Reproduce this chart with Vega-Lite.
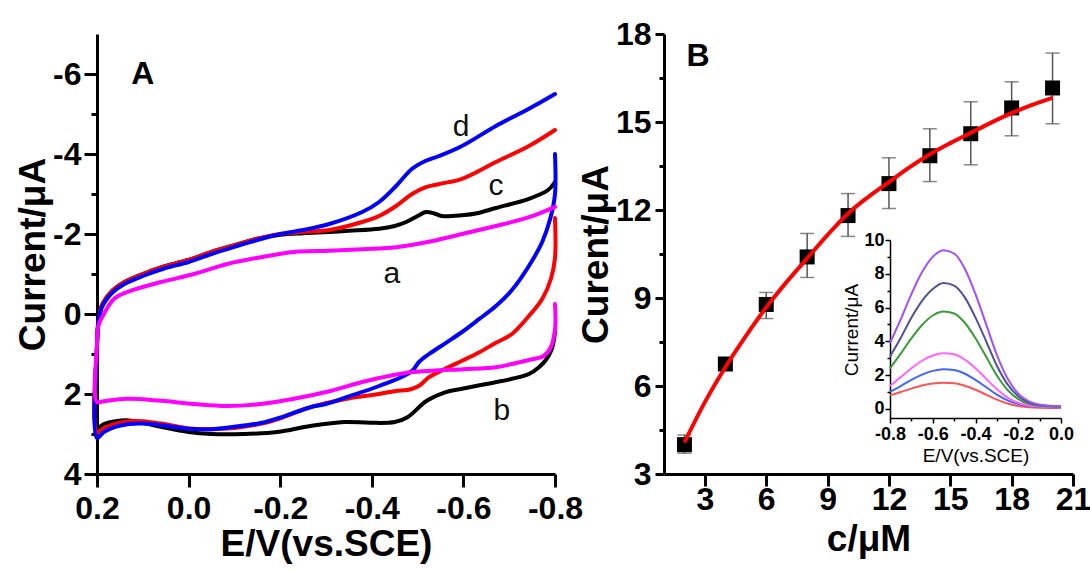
{
  "$schema": "https://vega.github.io/schema/vega-lite/v6.json",
  "background": "white",
  "autosize": {"type": "pad"},
  "padding": {"left": 14, "top": 18, "right": 0, "bottom": 5},
  "bounds": "flush",
  "spacing": 109,
  "config": {
    "view": {"stroke": null},
    "font": "Liberation Sans",
    "axis": {
      "grid": false,
      "domainColor": "black", "domainWidth": 3,
      "tickColor": "black", "tickWidth": 3,
      "labelColor": "black", "titleColor": "black",
      "labelFont": "Liberation Sans", "titleFont": "Liberation Sans",
      "labelFontWeight": "bold", "titleFontWeight": "bold",
      "labelFontSize": 32, "titleFontSize": 37,
      "labelOverlap": false, "labelFlush": false
    }
  },
  "datasets": {
    "cv": [
      {"s":"b","E":-0.8,"I":0.45},{"s":"b","E":-0.793,"I":0.875},{"s":"b","E":-0.78,"I":1.15},{"s":"b","E":-0.765,"I":1.33},{"s":"b","E":-0.743,"I":1.5},{"s":"b","E":-0.706,"I":1.62},{"s":"b","E":-0.65,"I":1.75},{"s":"b","E":-0.597,"I":1.87},{"s":"b","E":-0.56,"I":1.96},{"s":"b","E":-0.52,"I":2.17},{"s":"b","E":-0.478,"I":2.58},{"s":"b","E":-0.45,"I":2.7},{"s":"b","E":-0.397,"I":2.72},{"s":"b","E":-0.34,"I":2.7},{"s":"b","E":-0.266,"I":2.8},{"s":"b","E":-0.194,"I":2.95},{"s":"b","E":-0.12,"I":3.0},{"s":"b","E":-0.05,"I":3.0},{"s":"b","E":0.0,"I":2.95},{"s":"b","E":0.06,"I":2.82},{"s":"b","E":0.1,"I":2.72},{"s":"b","E":0.13,"I":2.66},{"s":"b","E":0.16,"I":2.68},{"s":"b","E":0.185,"I":2.75},{"s":"b","E":0.2,"I":2.85},
      {"s":"b","E":0.2,"I":0.8},{"s":"b","E":0.197,"I":0.2},{"s":"b","E":0.19,"I":-0.2},{"s":"b","E":0.18,"I":-0.4},{"s":"b","E":0.165,"I":-0.6},{"s":"b","E":0.14,"I":-0.8},{"s":"b","E":0.1,"I":-1.0},{"s":"b","E":0.05,"I":-1.2},{"s":"b","E":0.0,"I":-1.35},{"s":"b","E":-0.05,"I":-1.55},{"s":"b","E":-0.1,"I":-1.72},{"s":"b","E":-0.15,"I":-1.88},{"s":"b","E":-0.2,"I":-1.98},{"s":"b","E":-0.25,"I":-2.02},{"s":"b","E":-0.307,"I":-2.05},{"s":"b","E":-0.35,"I":-2.08},{"s":"b","E":-0.416,"I":-2.13},{"s":"b","E":-0.45,"I":-2.2},{"s":"b","E":-0.475,"I":-2.3},{"s":"b","E":-0.5,"I":-2.45},{"s":"b","E":-0.518,"I":-2.55},{"s":"b","E":-0.535,"I":-2.52},{"s":"b","E":-0.553,"I":-2.45},{"s":"b","E":-0.597,"I":-2.47},{"s":"b","E":-0.63,"I":-2.52},{"s":"b","E":-0.671,"I":-2.65},{"s":"b","E":-0.743,"I":-2.88},{"s":"b","E":-0.785,"I":-3.1},{"s":"b","E":-0.8,"I":-3.3},

      {"s":"c","E":-0.8,"I":-2.4},{"s":"c","E":-0.8,"I":-1.4},{"s":"c","E":-0.791,"I":-0.875},{"s":"c","E":-0.772,"I":-0.375},{"s":"c","E":-0.743,"I":0.05},{"s":"c","E":-0.706,"I":0.5},{"s":"c","E":-0.671,"I":0.72},{"s":"c","E":-0.634,"I":0.96},{"s":"c","E":-0.597,"I":1.17},{"s":"c","E":-0.562,"I":1.36},{"s":"c","E":-0.525,"I":1.58},{"s":"c","E":-0.505,"I":1.78},{"s":"c","E":-0.485,"I":1.88},{"s":"c","E":-0.45,"I":1.93},{"s":"c","E":-0.416,"I":2.0},{"s":"c","E":-0.34,"I":2.13},{"s":"c","E":-0.266,"I":2.33},{"s":"c","E":-0.197,"I":2.62},{"s":"c","E":-0.16,"I":2.74},{"s":"c","E":-0.1,"I":2.85},{"s":"c","E":-0.05,"I":2.88},{"s":"c","E":0.0,"I":2.86},{"s":"c","E":0.06,"I":2.74},{"s":"c","E":0.1,"I":2.68},{"s":"c","E":0.13,"I":2.68},{"s":"c","E":0.16,"I":2.74},{"s":"c","E":0.185,"I":2.85},{"s":"c","E":0.2,"I":2.95},
      {"s":"c","E":0.2,"I":0.8},{"s":"c","E":0.197,"I":0.2},{"s":"c","E":0.19,"I":-0.2},{"s":"c","E":0.18,"I":-0.4},{"s":"c","E":0.165,"I":-0.6},{"s":"c","E":0.14,"I":-0.8},{"s":"c","E":0.1,"I":-1.0},{"s":"c","E":0.05,"I":-1.2},{"s":"c","E":0.0,"I":-1.35},{"s":"c","E":-0.05,"I":-1.55},{"s":"c","E":-0.1,"I":-1.72},{"s":"c","E":-0.15,"I":-1.88},{"s":"c","E":-0.2,"I":-2.0},{"s":"c","E":-0.25,"I":-2.05},{"s":"c","E":-0.307,"I":-2.1},{"s":"c","E":-0.379,"I":-2.3},{"s":"c","E":-0.416,"I":-2.45},{"s":"c","E":-0.453,"I":-2.7},{"s":"c","E":-0.488,"I":-3.0},{"s":"c","E":-0.518,"I":-3.17},{"s":"c","E":-0.547,"I":-3.25},{"s":"c","E":-0.597,"I":-3.38},{"s":"c","E":-0.671,"I":-3.8},{"s":"c","E":-0.743,"I":-4.2},{"s":"c","E":-0.8,"I":-4.6},

      {"s":"d","E":-0.8,"I":-4.0},{"s":"d","E":-0.8,"I":-3.0},{"s":"d","E":-0.79,"I":-2.4},{"s":"d","E":-0.772,"I":-1.8},{"s":"d","E":-0.743,"I":-1.2},{"s":"d","E":-0.706,"I":-0.6},{"s":"d","E":-0.671,"I":-0.2},{"s":"d","E":-0.634,"I":0.13},{"s":"d","E":-0.597,"I":0.45},{"s":"d","E":-0.562,"I":0.72},{"s":"d","E":-0.525,"I":1.0},{"s":"d","E":-0.503,"I":1.2},{"s":"d","E":-0.49,"I":1.4},{"s":"d","E":-0.47,"I":1.55},{"s":"d","E":-0.416,"I":1.8},{"s":"d","E":-0.35,"I":2.06},{"s":"d","E":-0.3,"I":2.25},{"s":"d","E":-0.266,"I":2.33},{"s":"d","E":-0.197,"I":2.6},{"s":"d","E":-0.16,"I":2.72},{"s":"d","E":-0.1,"I":2.82},{"s":"d","E":-0.05,"I":2.88},{"s":"d","E":0.0,"I":2.87},{"s":"d","E":0.06,"I":2.78},{"s":"d","E":0.1,"I":2.74},{"s":"d","E":0.13,"I":2.75},{"s":"d","E":0.16,"I":2.82},{"s":"d","E":0.185,"I":2.95},{"s":"d","E":0.2,"I":3.1},
      {"s":"d","E":0.2,"I":0.8},{"s":"d","E":0.197,"I":0.2},{"s":"d","E":0.19,"I":-0.15},{"s":"d","E":0.18,"I":-0.35},{"s":"d","E":0.165,"I":-0.55},{"s":"d","E":0.14,"I":-0.75},{"s":"d","E":0.1,"I":-0.95},{"s":"d","E":0.05,"I":-1.15},{"s":"d","E":0.0,"I":-1.3},{"s":"d","E":-0.05,"I":-1.5},{"s":"d","E":-0.1,"I":-1.68},{"s":"d","E":-0.15,"I":-1.85},{"s":"d","E":-0.2,"I":-2.0},{"s":"d","E":-0.25,"I":-2.1},{"s":"d","E":-0.307,"I":-2.25},{"s":"d","E":-0.379,"I":-2.55},{"s":"d","E":-0.416,"I":-2.8},{"s":"d","E":-0.453,"I":-3.2},{"s":"d","E":-0.488,"I":-3.63},{"s":"d","E":-0.518,"I":-3.83},{"s":"d","E":-0.547,"I":-3.95},{"s":"d","E":-0.597,"I":-4.2},{"s":"d","E":-0.671,"I":-4.7},{"s":"d","E":-0.743,"I":-5.13},{"s":"d","E":-0.8,"I":-5.5},

      {"s":"a","E":-0.8,"I":-0.25},{"s":"a","E":-0.8,"I":0.4},{"s":"a","E":-0.79,"I":0.85},{"s":"a","E":-0.775,"I":1.05},{"s":"a","E":-0.743,"I":1.15},{"s":"a","E":-0.706,"I":1.25},{"s":"a","E":-0.671,"I":1.33},{"s":"a","E":-0.6,"I":1.38},{"s":"a","E":-0.53,"I":1.42},{"s":"a","E":-0.47,"I":1.48},{"s":"a","E":-0.416,"I":1.6},{"s":"a","E":-0.379,"I":1.7},{"s":"a","E":-0.307,"I":1.93},{"s":"a","E":-0.23,"I":2.12},{"s":"a","E":-0.158,"I":2.25},{"s":"a","E":-0.084,"I":2.3},{"s":"a","E":-0.012,"I":2.25},{"s":"a","E":0.06,"I":2.17},{"s":"a","E":0.134,"I":2.12},{"s":"a","E":0.185,"I":2.18},{"s":"a","E":0.2,"I":2.2},
      {"s":"a","E":0.2,"I":0.75},{"s":"a","E":0.197,"I":0.3},{"s":"a","E":0.185,"I":0.0},{"s":"a","E":0.163,"I":-0.375},{"s":"a","E":0.134,"I":-0.55},{"s":"a","E":0.06,"I":-0.8},{"s":"a","E":-0.012,"I":-1.0},{"s":"a","E":-0.084,"I":-1.25},{"s":"a","E":-0.158,"I":-1.42},{"s":"a","E":-0.23,"I":-1.55},{"s":"a","E":-0.307,"I":-1.58},{"s":"a","E":-0.38,"I":-1.62},{"s":"a","E":-0.453,"I":-1.67},{"s":"a","E":-0.53,"I":-1.82},{"s":"a","E":-0.597,"I":-2.0},{"s":"a","E":-0.671,"I":-2.2},{"s":"a","E":-0.743,"I":-2.42},{"s":"a","E":-0.8,"I":-2.68}
    ],
    "cvlabels": [
      {"t":"a","E":-0.444,"I":-1.0},
      {"t":"b","E":-0.684,"I":2.43},
      {"t":"c","E":-0.671,"I":-3.2},
      {"t":"d","E":-0.595,"I":-4.675}
    ],
    "pts": [
      {"c":2,"I":4.0,"lo":3.71,"hi":4.33},
      {"c":4,"I":6.75,"lo":6.68,"hi":6.82},
      {"c":6,"I":8.78,"lo":8.3,"hi":9.19},
      {"c":8,"I":10.4,"lo":9.7,"hi":11.2},
      {"c":10,"I":11.81,"lo":11.1,"hi":12.56},
      {"c":12,"I":12.9,"lo":12.05,"hi":13.78},
      {"c":14,"I":13.85,"lo":12.97,"hi":14.77},
      {"c":16,"I":14.6,"lo":13.54,"hi":15.69},
      {"c":18,"I":15.48,"lo":14.53,"hi":16.37},
      {"c":20,"I":16.16,"lo":14.94,"hi":17.35}
    ],
    "fit": [
      {"c":2,"I":4.08},{"c":3,"I":5.45},{"c":4,"I":6.64},{"c":5,"I":7.7},{"c":6,"I":8.68},{"c":7,"I":9.55},{"c":8,"I":10.35},{"c":9,"I":11.15},{"c":10,"I":11.88},{"c":11,"I":12.45},{"c":12,"I":12.95},{"c":13,"I":13.45},{"c":14,"I":13.9},{"c":15,"I":14.28},{"c":16,"I":14.63},{"c":17,"I":14.98},{"c":18,"I":15.3},{"c":19,"I":15.58},{"c":20,"I":15.82}
    ],
    "dpv": [
      {"s":"r","E":-0.8,"I":0.8},{"s":"r","E":-0.75,"I":1.0},{"s":"r","E":-0.7,"I":1.2},{"s":"r","E":-0.65,"I":1.38},{"s":"r","E":-0.6,"I":1.5},{"s":"r","E":-0.55,"I":1.55},{"s":"r","E":-0.5,"I":1.52},{"s":"r","E":-0.45,"I":1.37},{"s":"r","E":-0.4,"I":1.13},{"s":"r","E":-0.35,"I":0.84},{"s":"r","E":-0.3,"I":0.55},{"s":"r","E":-0.25,"I":0.32},{"s":"r","E":-0.2,"I":0.17},{"s":"r","E":-0.15,"I":0.09},{"s":"r","E":-0.1,"I":0.06},{"s":"r","E":-0.05,"I":0.05},{"s":"r","E":0.0,"I":0.05},
      {"s":"u","E":-0.8,"I":1.0},{"s":"u","E":-0.75,"I":1.35},{"s":"u","E":-0.7,"I":1.72},{"s":"u","E":-0.65,"I":2.03},{"s":"u","E":-0.6,"I":2.25},{"s":"u","E":-0.55,"I":2.35},{"s":"u","E":-0.5,"I":2.3},{"s":"u","E":-0.45,"I":2.08},{"s":"u","E":-0.4,"I":1.72},{"s":"u","E":-0.35,"I":1.28},{"s":"u","E":-0.3,"I":0.84},{"s":"u","E":-0.25,"I":0.5},{"s":"u","E":-0.2,"I":0.28},{"s":"u","E":-0.15,"I":0.17},{"s":"u","E":-0.1,"I":0.12},{"s":"u","E":-0.05,"I":0.1},{"s":"u","E":0.0,"I":0.1},
      {"s":"m","E":-0.8,"I":1.35},{"s":"m","E":-0.75,"I":1.88},{"s":"m","E":-0.7,"I":2.4},{"s":"m","E":-0.65,"I":2.85},{"s":"m","E":-0.6,"I":3.16},{"s":"m","E":-0.55,"I":3.3},{"s":"m","E":-0.5,"I":3.23},{"s":"m","E":-0.45,"I":2.92},{"s":"m","E":-0.4,"I":2.4},{"s":"m","E":-0.35,"I":1.78},{"s":"m","E":-0.3,"I":1.16},{"s":"m","E":-0.25,"I":0.67},{"s":"m","E":-0.2,"I":0.36},{"s":"m","E":-0.15,"I":0.2},{"s":"m","E":-0.1,"I":0.14},{"s":"m","E":-0.05,"I":0.11},{"s":"m","E":0.0,"I":0.1},
      {"s":"g","E":-0.8,"I":2.4},{"s":"g","E":-0.75,"I":3.27},{"s":"g","E":-0.7,"I":4.18},{"s":"g","E":-0.65,"I":4.97},{"s":"g","E":-0.6,"I":5.53},{"s":"g","E":-0.55,"I":5.77},{"s":"g","E":-0.5,"I":5.65},{"s":"g","E":-0.45,"I":5.1},{"s":"g","E":-0.4,"I":4.18},{"s":"g","E":-0.35,"I":3.08},{"s":"g","E":-0.3,"I":1.98},{"s":"g","E":-0.25,"I":1.12},{"s":"g","E":-0.2,"I":0.58},{"s":"g","E":-0.15,"I":0.3},{"s":"g","E":-0.1,"I":0.18},{"s":"g","E":-0.05,"I":0.14},{"s":"g","E":0.0,"I":0.12},
      {"s":"n","E":-0.8,"I":3.1},{"s":"n","E":-0.75,"I":4.2},{"s":"n","E":-0.7,"I":5.4},{"s":"n","E":-0.65,"I":6.4},{"s":"n","E":-0.6,"I":7.1},{"s":"n","E":-0.55,"I":7.45},{"s":"n","E":-0.5,"I":7.3},{"s":"n","E":-0.45,"I":6.6},{"s":"n","E":-0.4,"I":5.4},{"s":"n","E":-0.35,"I":4.0},{"s":"n","E":-0.3,"I":2.55},{"s":"n","E":-0.25,"I":1.45},{"s":"n","E":-0.2,"I":0.75},{"s":"n","E":-0.15,"I":0.38},{"s":"n","E":-0.1,"I":0.23},{"s":"n","E":-0.05,"I":0.17},{"s":"n","E":0.0,"I":0.15},
      {"s":"p","E":-0.8,"I":3.9},{"s":"p","E":-0.75,"I":5.3},{"s":"p","E":-0.7,"I":6.8},{"s":"p","E":-0.65,"I":8.1},{"s":"p","E":-0.6,"I":9.0},{"s":"p","E":-0.55,"I":9.4},{"s":"p","E":-0.5,"I":9.2},{"s":"p","E":-0.45,"I":8.3},{"s":"p","E":-0.4,"I":6.8},{"s":"p","E":-0.35,"I":5.0},{"s":"p","E":-0.3,"I":3.2},{"s":"p","E":-0.25,"I":1.8},{"s":"p","E":-0.2,"I":0.9},{"s":"p","E":-0.15,"I":0.45},{"s":"p","E":-0.1,"I":0.25},{"s":"p","E":-0.05,"I":0.18},{"s":"p","E":0.0,"I":0.15}
    ],
    "panelA": [{"t":"A","E":0.1,"I":-6.0}],
    "panelB": [{"t":"B","c":2.66,"I":17.25}]
  },
  "hconcat": [
    {
      "width": 458,
      "height": 440,
      "layer": [
        {
          "data": {"name": "cv"},
          "mark": {"type": "line", "strokeWidth": 4, "strokeJoin": "round", "strokeCap": "round", "interpolate": "catmull-rom"},
          "encoding": {
            "x": {"field": "E", "type": "quantitative",
              "scale": {"domain": [-0.8, 0.2], "reverse": true, "nice": false, "zero": false},
              "axis": {"title": "E/V(vs.SCE)", "values": [0.2, 0, -0.2, -0.4, -0.6, -0.8], "format": ".1f",
                "labelExpr": "replace(datum.label, '\u2212', '-')", "tickSize": 13, "labelPadding": 6, "titlePadding": 2}},
            "y": {"field": "I", "type": "quantitative",
              "scale": {"domain": [-7, 4], "reverse": true, "nice": false, "zero": false},
              "axis": {"title": "Current/\u03bcA", "values": [-6, -5, -4, -3, -2, -1, 0, 1, 2, 3, 4],
                "labelExpr": "datum.value % 2 === 0 ? replace(datum.label, '\u2212', '-') : ''",
                "tickSize": {"condition": {"test": "datum.value % 2 !== 0", "value": 6}, "value": 13},
                "labelPadding": 3, "titlePadding": 0}},
            "color": {"field": "s", "type": "nominal",
              "scale": {"domain": ["b", "c", "d", "a"], "range": ["#000000", "#ff0000", "#0000ff", "#ff00ff"]},
              "legend": null},
            "order": {"value": null}
          }
        },
        {
          "data": {"name": "cvlabels"},
          "mark": {"type": "text", "fontSize": 30, "font": "Liberation Sans", "color": "#111111", "baseline": "middle", "align": "center"},
          "encoding": {
            "x": {"field": "E", "type": "quantitative"},
            "y": {"field": "I", "type": "quantitative"},
            "text": {"field": "t"}
          }
        },
        {
          "data": {"name": "panelA"},
          "mark": {"type": "text", "fontSize": 32, "fontWeight": "bold", "font": "Liberation Sans", "color": "black", "baseline": "middle", "align": "center"},
          "encoding": {
            "x": {"field": "E", "type": "quantitative"},
            "y": {"field": "I", "type": "quantitative"},
            "text": {"field": "t"}
          }
        }
      ]
    },
    {
      "width": 409,
      "height": 440,
      "layer": [
        {
          "layer": [
            {
              "data": {"name": "pts"},
              "mark": {"type": "rule", "color": "#555555", "strokeWidth": 1.5},
              "encoding": {
                "x": {"field": "c", "type": "quantitative",
                  "scale": {"domain": [1, 21], "nice": false, "zero": false},
                  "axis": {"title": "c/\u03bcM", "values": [3, 6, 9, 12, 15, 18, 21], "tickSize": 12, "labelPadding": -2, "titlePadding": 6}},
                "y": {"field": "lo", "type": "quantitative",
                  "scale": {"domain": [3, 18], "nice": false, "zero": false},
                  "axis": {"title": "Curent/\u03bcA", "values": [3, 4.5, 6, 7.5, 9, 10.5, 12, 13.5, 15, 16.5, 18],
                    "labelExpr": "datum.value % 3 === 0 ? datum.label : ''",
                    "tickSize": {"condition": {"test": "datum.value % 3 !== 0", "value": 5}, "value": 9},
                    "labelPadding": 4, "titlePadding": 0}},
                "y2": {"field": "hi"}
              }
            },
            {
              "data": {"name": "pts"},
              "mark": {"type": "tick", "orient": "horizontal", "color": "#555555", "size": 14, "thickness": 1.5},
              "encoding": {
                "x": {"field": "c", "type": "quantitative"},
                "y": {"field": "lo", "type": "quantitative"}
              }
            },
            {
              "data": {"name": "pts"},
              "mark": {"type": "tick", "orient": "horizontal", "color": "#555555", "size": 14, "thickness": 1.5},
              "encoding": {
                "x": {"field": "c", "type": "quantitative"},
                "y": {"field": "hi", "type": "quantitative"}
              }
            },
            {
              "data": {"name": "pts"},
              "mark": {"type": "square", "size": 225, "filled": true, "color": "black", "opacity": 1},
              "encoding": {
                "x": {"field": "c", "type": "quantitative"},
                "y": {"field": "I", "type": "quantitative"}
              }
            },
            {
              "data": {"name": "fit"},
              "mark": {"type": "line", "color": "#ff0000", "strokeWidth": 4, "interpolate": "monotone"},
              "encoding": {
                "x": {"field": "c", "type": "quantitative"},
                "y": {"field": "I", "type": "quantitative"}
              }
            },
            {
              "data": {"name": "panelB"},
              "mark": {"type": "text", "fontSize": 32, "fontWeight": "bold", "font": "Liberation Sans", "color": "black", "baseline": "middle", "align": "center"},
              "encoding": {
                "x": {"field": "c", "type": "quantitative"},
                "y": {"field": "I", "type": "quantitative"},
                "text": {"field": "t"}
              }
            }
          ]
        },
        {
          "data": {"name": "dpv"},
          "mark": {"type": "line", "strokeWidth": 2, "interpolate": "monotone"},
          "encoding": {
            "x": {"field": "E", "type": "quantitative",
              "scale": {"domain": [-0.8, 0], "range": [226, 397], "nice": false, "zero": false},
              "axis": {"orient": "bottom", "offset": -56, "title": "E/V(vs.SCE)",
                "values": [-0.8, -0.7, -0.6, -0.5, -0.4, -0.3, -0.2, -0.1, 0],
                "labelExpr": "abs(round(datum.value*10)) % 2 === 0 ? replace(format(datum.value, '.1f'), '\u2212', '-') : ''",
                "tickSize": {"condition": {"test": "abs(round(datum.value*10)) % 2 !== 0", "value": 3}, "value": 5},
                "domainWidth": 1.5, "tickWidth": 1.5, "labelFontSize": 18, "titleFontSize": 19, "titleFontWeight": "normal",
                "labelPadding": 2, "titlePadding": 3}},
            "y": {"field": "I", "type": "quantitative",
              "scale": {"domain": [-0.6, 10], "range": [385, 206], "nice": false, "zero": false},
              "axis": {"orient": "left", "offset": -226, "title": "Current/\u03bcA",
                "values": [0, 1, 2, 3, 4, 5, 6, 7, 8, 9, 10],
                "labelExpr": "datum.value % 2 === 0 ? datum.label : ''",
                "tickSize": {"condition": {"test": "datum.value % 2 !== 0", "value": 3}, "value": 5},
                "domainWidth": 1.5, "tickWidth": 1.5, "labelFontSize": 18, "titleFontSize": 19, "titleFontWeight": "normal",
                "labelPadding": 1, "titlePadding": 2}},
            "color": {"field": "s", "type": "nominal",
              "scale": {"domain": ["r", "u", "m", "g", "n", "p"], "range": ["#ff5555", "#4466ff", "#ff66ff", "#3c9a3c", "#505098", "#a050ff"]},
              "legend": null}
          }
        }
      ],
      "resolve": {"scale": {"x": "independent", "y": "independent", "color": "independent"}}
    }
  ]
}
